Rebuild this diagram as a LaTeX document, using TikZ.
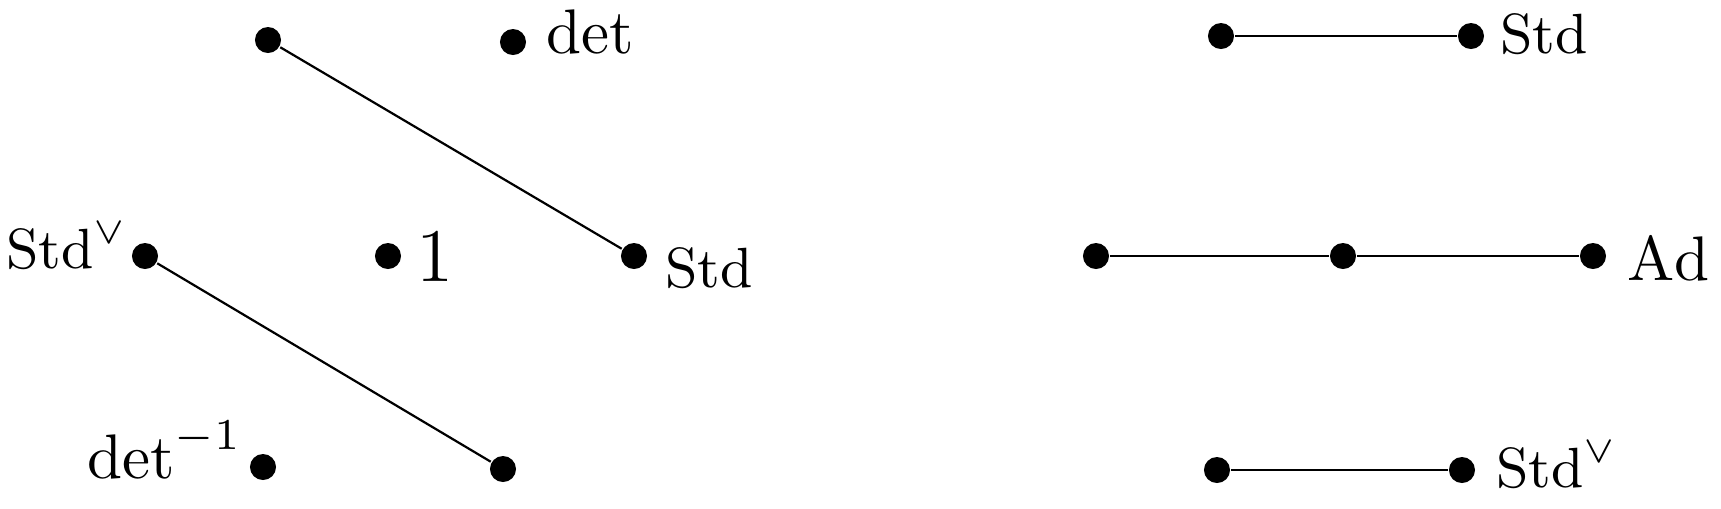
\documentclass[tikz,border=0pt]{standalone}
\begin{document}
\begin{tikzpicture}[x=0.15873pt,y=-0.15873pt,
  dot/.style={circle,fill=black,inner sep=0pt,minimum size=4.13pt},
  lbl/.style={inner sep=0pt,anchor=base west},
  edge/.style={line width=0.35pt}]
\useasboundingbox (0,0) rectangle (1721,508);
% left diagram
\node[dot] (a1) at (268,40) {};
\node[dot] (a2) at (513,42) {};
\node[dot] (b1) at (145,256) {};
\node[dot] (b2) at (388,256) {};
\node[dot] (b3) at (634,256) {};
\node[dot] (c1) at (263,467) {};
\node[dot] (c2) at (503,469) {};
\draw[edge] (a1) -- (b3);
\draw[edge] (b1) -- (c2);
\node[lbl] (la2) at (545,53) {\fontsize{9.7}{12}\selectfont $\det$};
\node[lbl] (lb1) at (5,268) {\fontsize{9}{11}\selectfont $\mathrm{Std}^{\vee}$};
\node[lbl] (lb2) at (415,281) {\fontsize{12.8}{15}\selectfont $1$};
\node[lbl] (lb3) at (664,287) {\fontsize{9}{11}\selectfont $\mathrm{Std}$};
\node[lbl] (lc1) at (86,478) {\fontsize{9.8}{12}\selectfont $\det^{-1}$};
% right diagram
\node[dot] (p1) at (1221,36) {};
\node[dot] (p2) at (1471,36) {};
\node[dot] (q1) at (1096,256) {};
\node[dot] (q2) at (1343,256) {};
\node[dot] (q3) at (1593,256) {};
\node[dot] (r1) at (1217,470) {};
\node[dot] (r2) at (1462,470) {};
\draw[edge] (p1) -- (p2);
\draw[edge] (q1) -- (q2) -- (q3);
\draw[edge] (r1) -- (r2);
\node[lbl] (lp2) at (1499,53) {\fontsize{9}{11}\selectfont $\mathrm{Std}$};
\node[lbl] (lq3) at (1626,280) {\fontsize{10}{12}\selectfont $\mathrm{Ad}$};
\node[lbl] (lr2) at (1495,487) {\fontsize{9}{11}\selectfont $\mathrm{Std}^{\vee}$};
\end{tikzpicture}
\end{document}
